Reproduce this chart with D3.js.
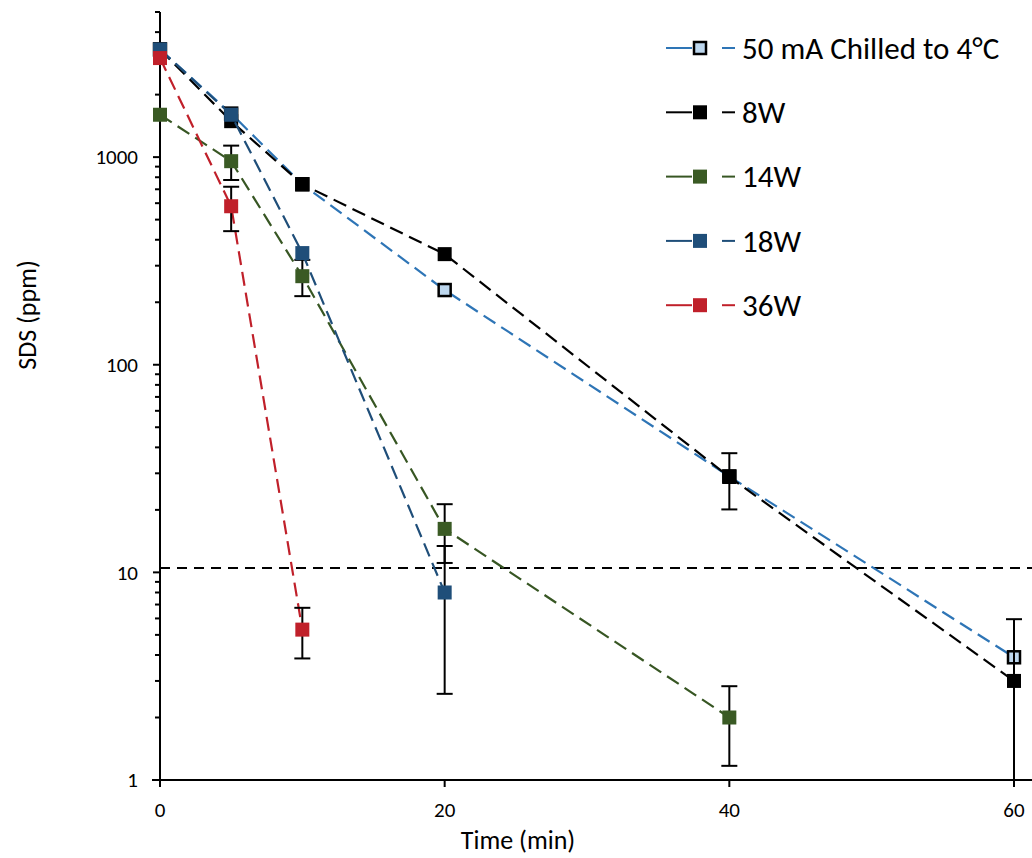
<!DOCTYPE html>
<html>
<head>
<meta charset="utf-8">
<script src="https://cdn.jsdelivr.net/npm/d3@7"></script>
<style>
  body { margin: 0; background: #fff; }
  text { font-family: Carlito, Calibri, Lato, sans-serif; fill: #000; }
</style>
</head>
<body>
<svg id="chart" width="1032" height="858"></svg>
<script>
// data
const times = [0, 5, 10, 20, 40, 60];
const chilledVals = [3300, 1620, 740, 229, 29, 3.9];
const chilledErr = [0, 0, 0, 0, 0, 0];
const w8Vals = [3300, 1490, 740, 341, 28.8, 3.0];
const w8Err = [0, 0, 0, 0, 8.7, 2.95];
const w14Vals = [1600, 956, 267, 16.2, 2.0];
const w14Err = [0, 180, 53, 5.1, 0.83];
const w18Vals = [3300, 1600, 345, 8.0];
const w18Err = [0, 0, 0, 5.4];
const w36Vals = [3000, 580, 5.3];
const w36Err = [0, 140, 1.45];
const limitValue = 10.5;
const xTicks = [0, 20, 40, 60];
const yTicks = [1, 10, 100, 1000];

const series = [
  { name: '50 mA Chilled to 4°C', vals: chilledVals, err: chilledErr, line: '#2E75B6', fill: '#BDD7EE', stroke: '#000' },
  { name: '8W', vals: w8Vals, err: w8Err, line: '#000000', fill: '#000000', stroke: null },
  { name: '14W', vals: w14Vals, err: w14Err, line: '#375623', fill: '#3A5A24', stroke: null },
  { name: '18W', vals: w18Vals, err: w18Err, line: '#1F4E79', fill: '#1F4E79', stroke: null },
  { name: '36W', vals: w36Vals, err: w36Err, line: '#C0202A', fill: '#C0202A', stroke: null },
];

const svg = d3.select('#chart');
const x = d3.scaleLinear().domain([0, 60]).range([160, 1014]);
const y = d3.scaleLog().domain([1, 5000]).range([780, 12]);

// y axis: major ticks + minor ticks
const minor = [];
for (let d = 1; d <= 1000; d *= 10) {
  for (let k = 2; k <= 9; k++) if (d * k <= 5000) minor.push(d * k);
}
const yAxis = svg.append('g').attr('transform', 'translate(160,0)');
yAxis.append('line').attr('x1', 0).attr('x2', 0).attr('y1', y(5000)).attr('y2', y(1))
  .attr('stroke', '#000').attr('stroke-width', 2);
yAxis.selectAll('.minor').data(minor).enter().append('line')
  .attr('x1', -5).attr('x2', 0).attr('y1', d => y(d)).attr('y2', d => y(d))
  .attr('stroke', '#000').attr('stroke-width', 2);
yAxis.selectAll('.major').data(yTicks).enter().append('line')
  .attr('x1', -7).attr('x2', 0).attr('y1', d => y(d)).attr('y2', d => y(d))
  .attr('stroke', '#000').attr('stroke-width', 2);
yAxis.selectAll('.lbl').data(yTicks).enter().append('text')
  .attr('x', -22).attr('y', d => y(d)).attr('dy', '0.35em')
  .attr('text-anchor', 'end').style('font-size', '21px')
  .text(d => d);

// x axis
const xAxis = svg.append('g').attr('transform', 'translate(0,780)');
xAxis.append('line').attr('x1', x(0) - 8).attr('x2', 1032).attr('y1', 0).attr('y2', 0)
  .attr('stroke', '#000').attr('stroke-width', 2);
xAxis.selectAll('.tk').data(xTicks).enter().append('line')
  .attr('x1', d => x(d)).attr('x2', d => x(d)).attr('y1', 0).attr('y2', 7)
  .attr('stroke', '#000').attr('stroke-width', 2);
xAxis.selectAll('.lbl').data(xTicks).enter().append('text')
  .attr('x', d => x(d)).attr('y', 37).attr('text-anchor', 'middle')
  .style('font-size', '21px').text(d => d);

// axis titles
svg.append('text').attr('x', 518).attr('y', 849).attr('text-anchor', 'middle')
  .style('font-size', '26px').text('Time (min)');
svg.append('text').attr('transform', 'translate(36,315) rotate(-90)')
  .attr('text-anchor', 'middle').style('font-size', '26px').text('SDS (ppm)');

// detection limit line
svg.append('line').attr('x1', x(0)).attr('x2', 1032)
  .attr('y1', y(limitValue)).attr('y2', y(limitValue))
  .attr('stroke', '#000').attr('stroke-width', 2).attr('stroke-dasharray', '10,7');

const line = d3.line().x(d => x(d.t)).y(d => y(d.v));

series.forEach(s => {
  const pts = s.vals.map((v, i) => ({ t: times[i], v: v, e: s.err[i] }));
  const g = svg.append('g');
  g.append('path').datum(pts).attr('d', line)
    .attr('fill', 'none').attr('stroke', s.line).attr('stroke-width', 2.2)
    .attr('stroke-dasharray', '14,7');

  const eb = g.selectAll('.err').data(pts.filter(p => p.e > 0)).enter().append('g');
  eb.append('line')
    .attr('x1', p => x(p.t)).attr('x2', p => x(p.t))
    .attr('y1', p => y(p.v + p.e))
    .attr('y2', p => p.v - p.e > 1 ? y(p.v - p.e) : y(1))
    .attr('stroke', '#000').attr('stroke-width', 2);
  eb.append('line')
    .attr('x1', p => x(p.t) - 8).attr('x2', p => x(p.t) + 8)
    .attr('y1', p => y(p.v + p.e)).attr('y2', p => y(p.v + p.e))
    .attr('stroke', '#000').attr('stroke-width', 2);
  eb.filter(p => p.v - p.e > 1).append('line')
    .attr('x1', p => x(p.t) - 8).attr('x2', p => x(p.t) + 8)
    .attr('y1', p => y(p.v - p.e)).attr('y2', p => y(p.v - p.e))
    .attr('stroke', '#000').attr('stroke-width', 2);

  const sz = s.stroke ? 12 : 14;
  g.selectAll('.pt').data(pts).enter().append('rect')
    .attr('x', p => x(p.t) - sz / 2).attr('y', p => y(p.v) - sz / 2)
    .attr('width', sz).attr('height', sz)
    .attr('fill', s.fill)
    .attr('stroke', s.stroke || 'none').attr('stroke-width', s.stroke ? 2.5 : 0);
});

// legend
const legend = svg.selectAll('.legend').data(series).enter().append('g')
  .attr('transform', (d, i) => 'translate(0,' + (48 + i * 64.3) + ')');
legend.append('line').attr('x1', 666).attr('x2', 692).attr('y1', 0).attr('y2', 0)
  .attr('stroke', d => d.line).attr('stroke-width', 2);
legend.append('line').attr('x1', 722).attr('x2', 735).attr('y1', 0).attr('y2', 0)
  .attr('stroke', d => d.line).attr('stroke-width', 2);
legend.append('rect')
  .attr('x', d => d.stroke ? 694 : 693).attr('y', d => d.stroke ? -6 : -7)
  .attr('width', d => d.stroke ? 12 : 14).attr('height', d => d.stroke ? 12 : 14)
  .attr('fill', d => d.fill)
  .attr('stroke', d => d.stroke || 'none').attr('stroke-width', d => d.stroke ? 2.5 : 0);
legend.append('text').attr('x', 742).attr('y', 0).attr('dy', '0.35em')
  .style('font-size', '31px').text(d => d.name);
</script>
</body>
</html>
